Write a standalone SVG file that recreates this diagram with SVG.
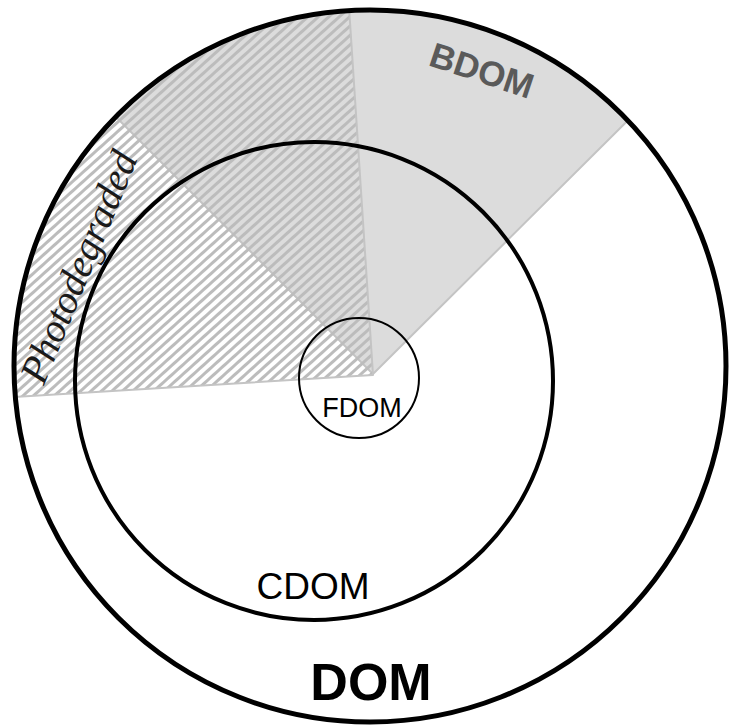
<svg xmlns="http://www.w3.org/2000/svg" width="731" height="727" viewBox="0 0 731 727">
  <style>
    .ring { fill: none; stroke: #000; }
    .edge { stroke: #c4c4c4; stroke-width: 2; stroke-linejoin: round; }
    .sans { font-family: "Liberation Sans", Arial, sans-serif; }
    .serif { font-family: "Liberation Serif", "Times New Roman", serif; }
  </style>
  <defs>
    <clipPath id="domClip">
      <circle cx="370" cy="366" r="356"/>
    </clipPath>
    <!-- diagonal hatching for the photodegraded sector -->
    <pattern id="hatch" width="7" height="7" patternUnits="userSpaceOnUse" patternTransform="rotate(-42)">
      <rect x="0" y="0" width="7" height="3" fill="#bcbcbc"/>
    </pattern>
  </defs>

  <rect width="731" height="727" fill="#fff"/>

  <!-- sectors -->
  <g id="sectors" clip-path="url(#domClip)">
    <g id="bdom-sector">
      <polygon class="edge" points="373,374 -3,-2 751,-2" fill="#dcdcdc"/>
    </g>
    <g id="photodegraded-sector">
      <polygon class="edge" points="373,375 -168,408 -168,-200 338,-162" fill="url(#hatch)"/>
    </g>
  </g>

  <!-- nested pools -->
  <g id="dom">
    <circle class="ring" cx="370" cy="366" r="356" stroke-width="5"/>
    <text class="sans" x="371" y="700" font-size="52" font-weight="bold" text-anchor="middle" fill="#000">DOM</text>
  </g>
  <g id="cdom">
    <circle class="ring" cx="314" cy="381" r="239" stroke-width="4"/>
    <text class="sans" x="313" y="599" font-size="37" text-anchor="middle" fill="#000">CDOM</text>
  </g>
  <g id="fdom">
    <circle class="ring" cx="359" cy="378" r="60" stroke-width="2"/>
    <text class="sans" x="362" y="417" font-size="27" text-anchor="middle" fill="#000">FDOM</text>
  </g>

  <!-- sector labels -->
  <g id="bdom-label">
    <text class="sans" x="478" y="82" font-size="35" font-weight="bold" text-anchor="middle" fill="#5a5a5a" transform="rotate(18.4 478 82)">BDOM</text>
  </g>
  <g id="photodegraded-label">
    <text class="serif" x="91" y="272" font-size="40" font-style="italic" text-anchor="middle" fill="#1a1a1a" transform="rotate(-67.5 91 272)">Photodegraded</text>
  </g>
</svg>
